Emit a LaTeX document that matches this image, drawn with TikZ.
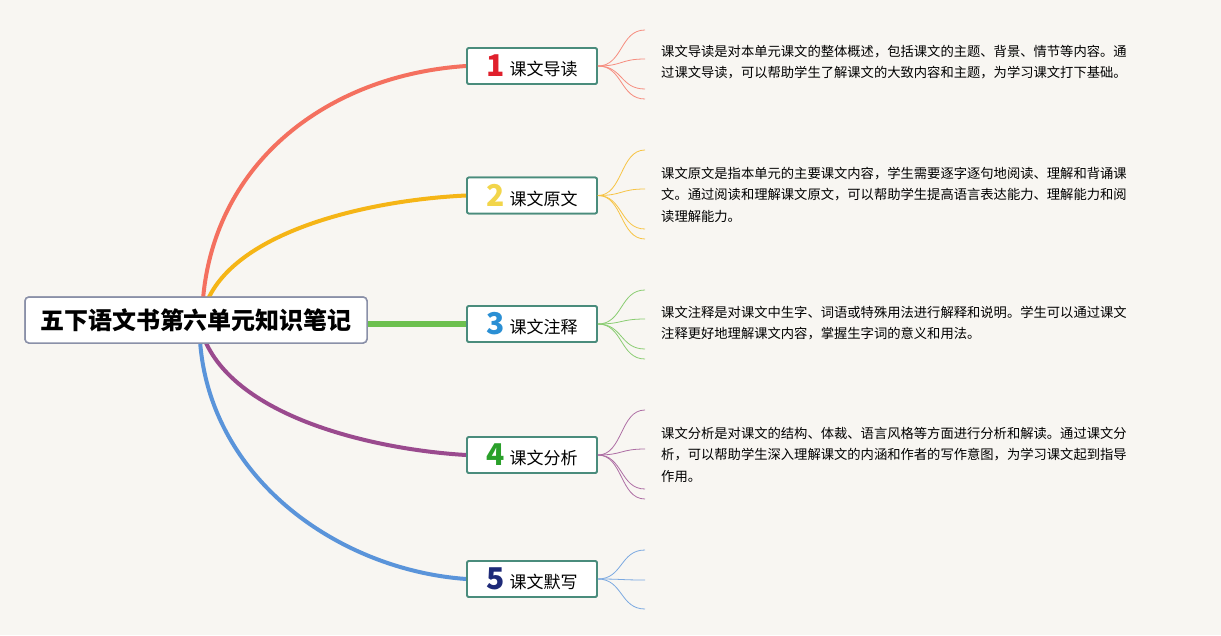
\documentclass[tikz,border=0pt]{standalone}
\usepackage{fontspec}
\setmainfont{Noto Sans CJK SC}
\usetikzlibrary{calc}
\definecolor{bg}{HTML}{F8F6F2}
\definecolor{cred}{HTML}{F4705F}
\definecolor{cyel}{HTML}{F5B516}
\definecolor{cgrn}{HTML}{6DC04F}
\definecolor{cpur}{HTML}{9A4A8E}
\definecolor{cblu}{HTML}{5A94DA}
\definecolor{nred}{HTML}{E0202C}
\definecolor{nyel}{HTML}{F2D54A}
\definecolor{nblu}{HTML}{2A8FD4}
\definecolor{ngrn}{HTML}{2AA02A}
\definecolor{nnav}{HTML}{1E2A78}
\definecolor{teal}{HTML}{4A8C7C}
\definecolor{rootborder}{HTML}{8A90A8}
\tikzset{
  rootbox/.style={draw=rootborder, line width=1.5pt, fill=white, rounded corners=4pt,
    minimum width=342pt, minimum height=46pt, inner sep=0pt, font=\fontsize{24}{28}\selectfont\bfseries},
  topicbox/.style={draw=teal, line width=1.8pt, fill=white, rounded corners=2pt,
    minimum width=130pt, minimum height=36pt, inner sep=0pt, font=\fontsize{17}{20}\selectfont},
  branch/.style={line width=4pt, line cap=round},
  fan/.style={line width=0.8pt},
  desc/.style={anchor=north west, inner sep=0pt, align=left, font=\fontsize{13.3}{21.5}\selectfont}
}
\newcommand{\numlabel}[2]{\raisebox{-1pt}{\bfseries\fontsize{30}{30}\selectfont\textcolor{#1}{#2}}\hspace{5pt}}
\begin{document}
\begin{tikzpicture}[x=1pt,y=-1pt]
\fill[bg] (0,0) rectangle (1221,635);
\useasboundingbox (0,0) rectangle (1221,635);

\node[rootbox] (root) at (196,320) {五下语文书第六单元知识笔记};
\node[topicbox] (t1) at (532,66) {\numlabel{nred}{1}课文导读};
\node[topicbox] (t2) at (532,195.5) {\numlabel{nyel}{2}课文原文};
\node[topicbox] (t3) at (532,324) {\numlabel{nblu}{3}课文注释};
\node[topicbox] (t4) at (532,455) {\numlabel{ngrn}{4}课文分析};
\node[topicbox] (t5) at (532,579) {\numlabel{nnav}{5}课文默写};

% branches (drawn then boxes redrawn on top)
\draw[branch, cred] ($(root.north)+(7,3)$) .. controls (215,160) and (330,75) .. (t1.west);
\draw[branch, cyel] ($(root.north)+(12,3)$) .. controls (240,230) and (370,200) .. (t2.west);
\draw[line width=6pt, cgrn] (root.east |- t3.west) -- (t3.west);
\draw[branch, cpur] ($(root.south)+(9,-3)$) .. controls (240,420) and (380,450) .. (t4.west);
\draw[branch, cblu] ($(root.south)+(4,-3)$) .. controls (210,480) and (340,570) .. (t5.west);

\node[rootbox] (rootb) at (196,320) {五下语文书第六单元知识笔记};
\node[topicbox] (t1b) at (532,66) {\numlabel{nred}{1}课文导读};
\node[topicbox] (t2b) at (532,195.5) {\numlabel{nyel}{2}课文原文};
\node[topicbox] (t3b) at (532,324) {\numlabel{nblu}{3}课文注释};
\node[topicbox] (t4b) at (532,455) {\numlabel{ngrn}{4}课文分析};
\node[topicbox] (t5b) at (532,579) {\numlabel{nnav}{5}课文默写};

% fan coordinates
\foreach \i/\y in {a/30,b/59,c/89,d/99}{\coordinate (f1\i) at (645,\y);}
\foreach \i/\y in {a/150,b/189,c/229,d/239}{\coordinate (f2\i) at (645,\y);}
\foreach \i/\y in {a/290,b/319,c/349,d/359}{\coordinate (f3\i) at (645,\y);}
\foreach \i/\y in {a/410,b/449,c/489,d/499}{\coordinate (f4\i) at (645,\y);}
\foreach \i/\y in {a/550,b/580,c/609}{\coordinate (f5\i) at (645,\y);}

\foreach \i in {a,b,c,d}{
  \draw[fan, cred!80] (t1b.east) .. controls ($(t1b.east)+(25,0)$) and ($(f1\i)+(-25,0)$) .. (f1\i);
  \draw[fan, cyel!80] (t2b.east) .. controls ($(t2b.east)+(25,0)$) and ($(f2\i)+(-25,0)$) .. (f2\i);
  \draw[fan, cgrn!80] (t3b.east) .. controls ($(t3b.east)+(25,0)$) and ($(f3\i)+(-25,0)$) .. (f3\i);
  \draw[fan, cpur!80] (t4b.east) .. controls ($(t4b.east)+(25,0)$) and ($(f4\i)+(-25,0)$) .. (f4\i);
}
\foreach \i in {a,b,c}{
  \draw[fan, cblu!80] (t5b.east) .. controls ($(t5b.east)+(25,0)$) and ($(f5\i)+(-25,0)$) .. (f5\i);
}

\node[desc] (d1) at (661,45) {课文导读是对本单元课文的整体概述，包括课文的主题、背景、情节等内容。通\\过课文导读，可以帮助学生了解课文的大致内容和主题，为学习课文打下基础。};
\node[desc] (d2) at (661,167) {课文原文是指本单元的主要课文内容，学生需要逐字逐句地阅读、理解和背诵课\\文。通过阅读和理解课文原文，可以帮助学生提高语言表达能力、理解能力和阅\\读理解能力。};
\node[desc] (d3) at (661,306) {课文注释是对课文中生字、词语或特殊用法进行解释和说明。学生可以通过课文\\注释更好地理解课文内容，掌握生字词的意义和用法。};
\node[desc] (d4) at (661,427) {课文分析是对课文的结构、体裁、语言风格等方面进行分析和解读。通过课文分\\析，可以帮助学生深入理解课文的内涵和作者的写作意图，为学习课文起到指导\\作用。};
\end{tikzpicture}
\end{document}
